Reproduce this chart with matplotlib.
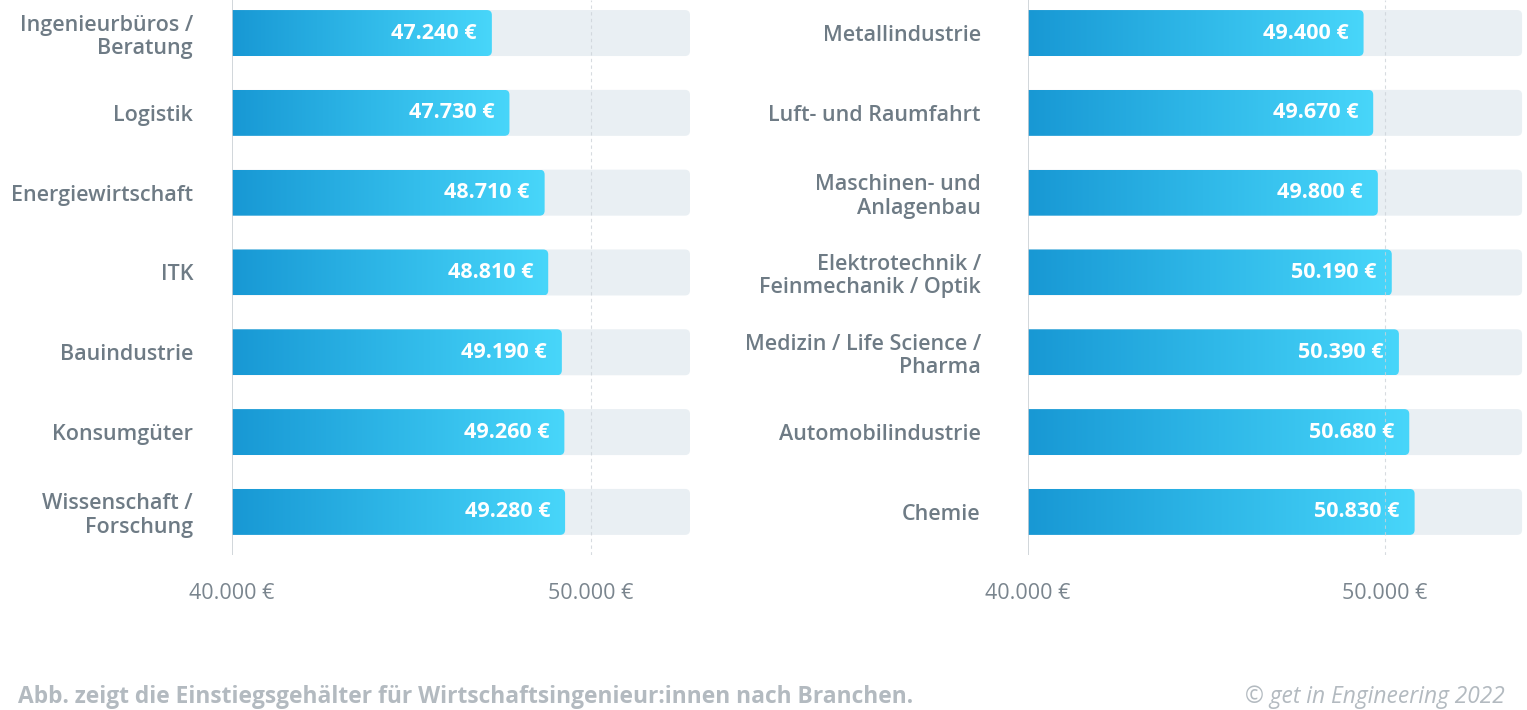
import matplotlib
matplotlib.use("Agg")
import matplotlib.pyplot as plt
import numpy as np
from matplotlib.patches import FancyBboxPatch
from matplotlib.colors import LinearSegmentedColormap

plt.rcParams['font.family'] = ['Open Sans', 'DejaVu Sans']

# data
left_labels = ["Ingenieurbüros /\nBeratung", "Logistik", "Energiewirtschaft", "ITK",
               "Bauindustrie", "Konsumgüter", "Wissenschaft /\nForschung"]
left_values = [47240, 47730, 48710, 48810, 49190, 49260, 49280]
right_labels = ["Metallindustrie", "Luft- und Raumfahrt", "Maschinen- und\nAnlagenbau",
                "Elektrotechnik /\nFeinmechanik / Optik", "Medizin / Life Science /\nPharma",
                "Automobilindustrie", "Chemie"]
right_values = [49400, 49670, 49800, 50190, 50390, 50680, 50830]
x_ticks = [40000, 50000]
left_bg_end = 52760
right_bg_end = 53840

grad = LinearSegmentedColormap.from_list("g", ["#1898d4", "#2fb8e8", "#48d6fa"])
LABEL_C = "#6e7b85"
W, H = 1527, 710


def euro(v):
    return "{:,}".format(v).replace(",", ".") + " €"


def panel(ax, labels, values, bg_end, xmax, ypad):
    n = len(values)
    ax.set_xlim(40000, xmax)
    ax.set_ylim(6.54, -0.414)
    bb = ax.get_position()
    px_x = (xmax - 40000) / (bb.width * W)
    px_y = (6.54 + 0.414) / (bb.height * H)
    asp = px_y / px_x
    h = 0.576
    r = 5 * px_x
    for i, v in enumerate(values):
        bg = FancyBboxPatch((40000 - 3 * r, i - h / 2), bg_end - 40000 + 3 * r, h,
                            boxstyle="round,pad=0,rounding_size=%f" % r,
                            mutation_aspect=asp, fc="#e9eff3", ec="none", zorder=1,
                            clip_on=True)
        ax.add_patch(bg)
        clip = FancyBboxPatch((40000 - 3 * r, i - h / 2), v - 40000 + 3 * r, h,
                              boxstyle="round,pad=0,rounding_size=%f" % r,
                              mutation_aspect=asp, fc="none", ec="none",
                              transform=ax.transData)
        ax.add_patch(clip)
        im = ax.imshow(np.linspace(0, 1, 256).reshape(1, -1), cmap=grad, aspect="auto",
                       extent=(40000, v, i + h / 2, i - h / 2), zorder=2,
                       interpolation="bilinear")
        im.set_clip_path(clip)
        ax.text(v - 15 * px_x, i, euro(v), ha="right", va="center", color="white",
                fontsize=15.5, fontweight="bold", zorder=4)
    ax.set_xlim(40000, xmax)
    ax.set_ylim(6.54, -0.414)
    ax.axvline(40000, color="#c9cfd4", lw=1.2, zorder=5)
    ax.axvline(50000, color="#cdd3d9", lw=0.8, ls=(0, (3, 3)), alpha=0.8, zorder=3)
    ax.set_yticks(range(n))
    ax.set_yticklabels(labels, fontsize=15.5, color=LABEL_C, fontweight="semibold",
                       linespacing=1.15)
    ax.tick_params(axis="y", length=0, pad=ypad)
    ax.set_xticks(x_ticks)
    ax.set_xticklabels([euro(t) for t in x_ticks], fontsize=15.5, color="#7a858e")
    ax.tick_params(axis="x", length=0, pad=20)
    for s in ax.spines.values():
        s.set_visible(False)
    ax.set_facecolor("none")


fig = plt.figure(figsize=(15.27, 7.10), dpi=100)
ax1 = fig.add_axes([232 / W, 1 - 555 / H, (690 - 232) / W, 555 / H])
ax2 = fig.add_axes([1028 / W, 1 - 555 / H, (1526 - 1028) / W, 555 / H])
panel(ax1, left_labels, left_values, left_bg_end, 52760, 28)
panel(ax2, right_labels, right_values, right_bg_end, 53950, 34)

fig.text(18 / W, 1 - 697 / H, "Abb. zeigt die Einstiegsgehälter für Wirtschaftsingenieur:innen nach Branchen.",
         fontsize=16.4, fontweight="bold", color="#b3bac0", va="center", ha="left")
fig.text(1505 / W, 1 - 697 / H, "© get in Engineering 2022", fontsize=16.4, style="italic",
         color="#b3bac0", va="center", ha="right")

fig.savefig("out.png", dpi=100)
